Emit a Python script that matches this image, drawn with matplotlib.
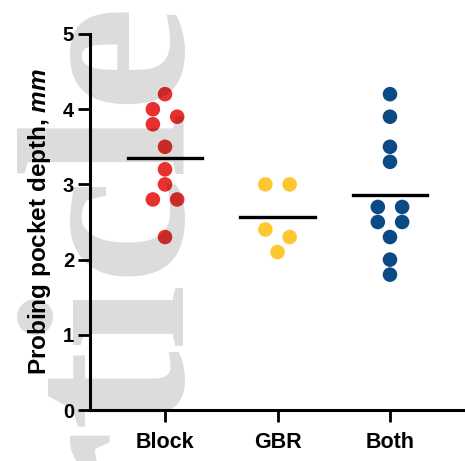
import numpy as np
import matplotlib
matplotlib.use("Agg")
import matplotlib.pyplot as plt

plt.rcParams['font.family'] = ['Liberation Sans', 'DejaVu Sans']
plt.rcParams['mathtext.fontset'] = 'custom'
plt.rcParams['mathtext.it'] = 'Liberation Sans:italic:bold'

# data (mm)
groups = ['Block', 'GBR', 'Both']
block = [4.2, 4.0, 3.9, 3.8, 3.5, 3.2, 3.0, 2.8, 2.8, 2.3]
gbr = [3.0, 3.0, 2.4, 2.3, 2.1]
both = [4.2, 3.9, 3.5, 3.3, 2.7, 2.7, 2.5, 2.5, 2.3, 2.0, 1.8]
colors = ['#E8312F', '#FDC82F', '#0B4A84']


def swarm_offsets(vals, step=0.108, gap=0.1):
    # points closer than `gap` are put side by side, zig-zagging left/right
    vals = np.asarray(vals, dtype=float)
    order = np.argsort(-vals, kind='stable')
    offs = np.zeros(len(vals))
    cluster = [order[0]]
    for i in list(order[1:]) + [None]:
        if i is not None and vals[cluster[-1]] - vals[i] <= gap + 1e-9:
            cluster.append(i)
            continue
        if len(cluster) > 1:
            for k, j in enumerate(cluster):
                offs[j] = -step if k % 2 == 0 else step
        cluster = [i] if i is not None else []
    return offs


fig = plt.figure(figsize=(4.65, 4.61), dpi=100)
ax = fig.add_axes([90 / 465, 51 / 461, 375 / 465, 376 / 461])

for i, (vals, c) in enumerate(zip([block, gbr, both], colors)):
    x = i + swarm_offsets(vals)
    ax.scatter(x, vals, s=110, color=c, edgecolors='none', zorder=3, clip_on=False)
    m = np.mean(vals)
    ax.plot([i - 0.33, i + 0.33], [m, m], color='black', lw=2.4, zorder=4)

ax.set_xlim(-0.667, 2.667)
ax.set_ylim(0, 5)
ax.set_xticks(range(3))
ax.set_xticklabels(groups, fontsize=15.5, fontweight='bold')
ax.set_yticks(range(6))
ax.set_yticklabels([str(v) for v in range(6)], fontsize=14.5, fontweight='bold')
ax.tick_params(axis='both', length=8.5, width=2, color='black')
ax.tick_params(axis='x', pad=7)
ax.tick_params(axis='y', pad=3)
ax.set_ylabel('Probing pocket depth, $mm$', fontsize=17.5, fontweight='bold', labelpad=7)

for s in ['top', 'right']:
    ax.spines[s].set_visible(False)
for s in ['left', 'bottom']:
    ax.spines[s].set_linewidth(2.2)

# faint publisher watermark running up the left side
fig.text(182 / 465, 1 - 2 / 461, 'Article', family='Liberation Serif', fontweight='bold',
         fontsize=172, color='black', alpha=0.14, rotation=90, rotation_mode='anchor',
         ha='right', va='baseline')

fig.savefig('out.png', dpi=100)
